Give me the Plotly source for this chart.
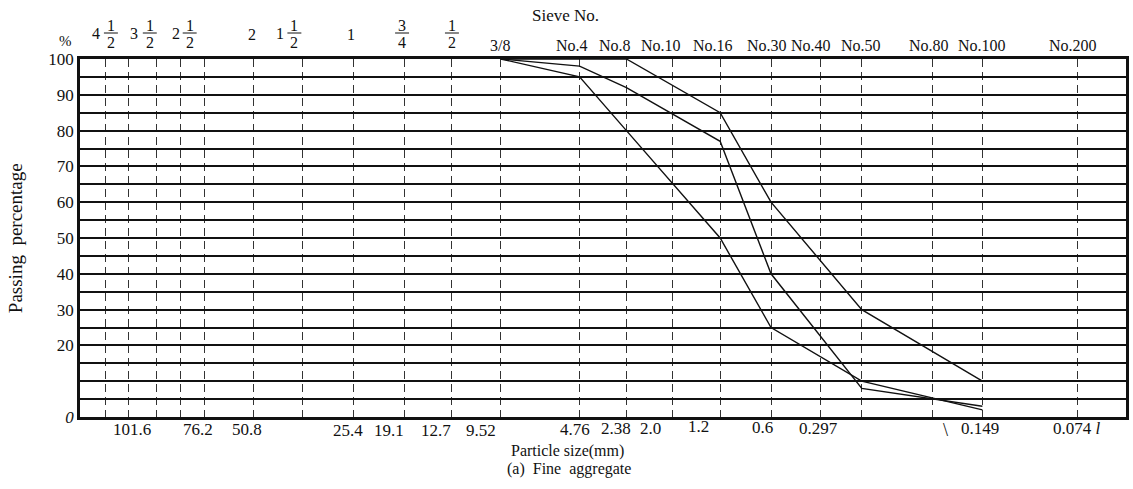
import plotly.graph_objects as go

# ---- sieve scale (stations along the hand-ruled particle-size axis) ----
sieve_names = ["4 1/2", "4", "3 1/2", "3", "2 1/2", "2", "1 1/2", "1", "3/4", "1/2",
               "3/8", "No.4", "No.8", "No.10", "No.16", "No.30", "No.40", "No.50",
               "No.80", "No.100", "No.200"]
sieve_station = [26, 49, 77, 101, 125, 174, 223, 274, 325, 373,
                 422, 501, 548, 594, 642, 693, 743, 784, 855, 905, 1000]
station = dict(zip(sieve_names, sieve_station))
X_SPAN = 1049

# ---- grading data (percent passing) ----
grading_sieves = ["3/8", "No.4", "No.8", "No.16", "No.30", "No.50", "No.100"]
upper_limit = [100, 100, 100, 85, 60, 30, 10]
lower_limit = [100, 95, 80, 50, 25, 10, 2]
sample_passing = [100, 98, 92, 77, 40, 8, 3]

y_labels = {0: "<i>0</i>", 20: "20", 30: "30", 40: "40", 50: "50",
            60: "60", 70: "70", 80: "80", 90: "90", 100: "100"}

FONT = "Liberation Serif"
INK = "#111111"

fig = go.Figure()
for vals in (upper_limit, lower_limit, sample_passing):
    fig.add_trace(go.Scatter(
        x=[station[s] for s in grading_sieves], y=vals, mode="lines",
        line=dict(color=INK, width=1.4), showlegend=False, hoverinfo="skip"))

# page geometry helpers for the lettering around the grid
TOP, BOTTOM, LEFT = 59, 417, 80
def py(ypx):
    return (BOTTOM - ypx) / (BOTTOM - TOP)
def px(xpx):
    return (xpx - LEFT) / X_SPAN

ann = []
def text(xpx, ypx, s, size=17):
    ann.append(dict(x=px(xpx), y=py(ypx), xref="paper", yref="paper", text=s,
                    showarrow=False, xanchor="center", yanchor="middle",
                    font=dict(family=FONT, size=size, color=INK)))

shapes = []
def frac(xpx, num, den, whole=None, wx=None):
    text(xpx, 25, num, size=16)
    text(xpx, 42, den, size=16)
    shapes.append(dict(type="line", xref="paper", yref="paper",
                       x0=px(xpx - 7), x1=px(xpx + 7), y0=py(33), y1=py(33),
                       line=dict(color=INK, width=1)))
    if whole is not None:
        text(wx, 33, whole, size=16)

# inch sieves across the top
frac(111, "1", "2", "4", 96)
frac(150, "1", "2", "3", 134)
frac(190, "1", "2", "2", 176)
text(252, 34, "2", size=16)
frac(295, "1", "2", "1", 281)
text(352, 34, "1", size=16)
frac(403, "3", "4")
frac(453, "1", "2")
text(501, 45, "3/8", size=16)
text(567, 15, "Sieve No.", size=17)
for name, cx in [("No.4", 573), ("No.8", 617), ("No.10", 663), ("No.16", 715),
                 ("No.30", 769), ("No.40", 813), ("No.50", 863), ("No.80", 931),
                 ("No.100", 985), ("No.200", 1076)]:
    text(cx, 45, name, size=16)
text(65, 41, "%", size=15)

# particle sizes (mm) along the bottom
for lab, cx, cy in [("101.6", 132, 429), ("76.2", 198, 429), ("50.8", 247, 429),
                    ("25.4", 349, 430), ("19.1", 390, 431), ("12.7", 437, 430),
                    ("9.52", 482, 431), ("4.76", 576, 429), ("2.38", 618, 428),
                    ("2.0", 652, 428), ("1.2", 700, 426), ("0.6", 764, 427),
                    ("0.297", 821, 428), ("0.149", 983, 428),
                    ("0.074 <i>l</i>", 1080, 428)]:
    text(cx, cy, lab)
text(948, 430, "\\", size=18)
text(569, 451, "Particle size(mm)", size=16)
text(570, 469, "(a)&nbsp;&nbsp;Fine&nbsp;&nbsp;aggregate", size=16)

ann.append(dict(x=px(15), y=py(238), xref="paper", yref="paper",
                text="Passing&nbsp;&nbsp;percentage", textangle=-90, showarrow=False,
                xanchor="center", yanchor="middle",
                font=dict(family=FONT, size=19, color=INK)))

fig.update_layout(
    width=1133, height=489,
    margin=dict(l=80, r=4, t=59, b=72),
    paper_bgcolor="white", plot_bgcolor="white",
    annotations=ann, shapes=shapes,
    xaxis=dict(range=[0, X_SPAN], tickvals=sieve_station, showticklabels=False,
               ticks="", showgrid=True, gridcolor="#333333", gridwidth=1,
               griddash="8px,5px", zeroline=False,
               showline=True, linecolor=INK, linewidth=2.5, mirror=True),
    yaxis=dict(range=[0, 100], tickvals=list(range(0, 101, 5)),
               ticktext=[y_labels.get(v, "") for v in range(0, 101, 5)],
               ticks="", showgrid=True, gridcolor=INK, gridwidth=2.2,
               zeroline=False, showline=True, linecolor=INK, linewidth=2.5,
               mirror=True, tickfont=dict(family=FONT, size=17, color=INK)),
)

fig.write_html("out.html")
